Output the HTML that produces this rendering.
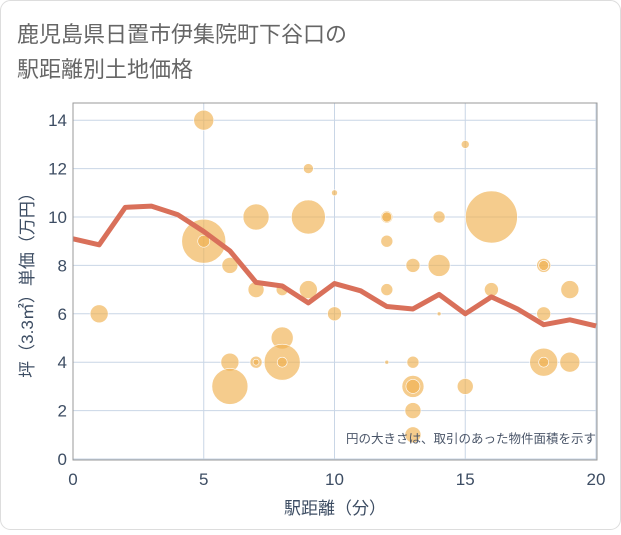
<!DOCTYPE html>
<html><head><meta charset="utf-8"><style>
body{margin:0;background:#fff;}
svg{font-family:"Liberation Sans","Noto Sans CJK JP",sans-serif;}
</style></head><body>
<svg width="621" height="530">
<rect x="0.5" y="0.5" width="620" height="529" rx="10" fill="#fff" stroke="#ddd"/>
<text x="17" y="42" font-size="22" fill="#666">鹿児島県日置市伊集院町下谷口の</text>
<text x="17" y="77" font-size="22" fill="#666">駅距離別土地価格</text>
<g id="grid"></g>
<g id="bubbles"></g>
<path id="line" fill="none" stroke="#d9705a" stroke-width="5" stroke-linejoin="round"/>
<rect x="73" y="103" width="524" height="357" fill="none" stroke="#999" stroke-width="1"/>
<g id="axes"></g>
<text x="596" y="443" font-size="12.5" fill="#4a5568" text-anchor="end">円の大きさは、取引のあった物件面積を示す</text>
<text x="335" y="514" font-size="17" fill="#3d4d63" text-anchor="middle">駅距離（分）</text>
<text transform="translate(33,281) rotate(-90)" font-size="17" fill="#3d4d63" text-anchor="middle">坪（3.3㎡）単価（万円）</text>
</svg>
<script>
const xTicks=[0,5,10,15,20];
const yTicks=[0,2,4,6,8,10,12,14];
const lineX=[0,1,2,3,4,5,6,7,8,9,10,11,12,13,14,15,16,17,18,19,20];
const lineY=[9.1,8.85,10.4,10.45,10.1,9.4,8.6,7.3,7.15,6.45,7.25,6.95,6.3,6.2,6.8,6.0,6.7,6.2,5.55,5.75,5.5];
const bubX=[5,1,5,5,6,6,6,7,7,7,7,8,8,8,8,9,9,9,10,10,12,12,12,12,12,13,13,13,13,13,13,14,14,14,15,15,16,16,18,18,18,18,18,19,19];
const bubY=[14,6,9,9,8,4,3,10,7,4,4,7,5,4,4,12,10,7,11,6,10,10,9,7,4,8,4,3,3,2,1,10,8,6,13,3,10,7,8,8,6,4,4,7,4];
const bubSize=[100,81,484,36,64,81,324,169,64,36,9,36,121,324,25,25,289,81,9,49,36,25,36,36,4,49,36,121,49,64,64,36,121,4,16,64,676,49,49,25,49,196,25,81,100];
const X=v=>73+v*26.15, Y=v=>459-v*24.2;
const ns="http://www.w3.org/2000/svg";
const grid=document.getElementById('grid'),axes=document.getElementById('axes');
yTicks.forEach(t=>{
 const l=document.createElementNS(ns,'line');
 
 
 l.setAttribute('x1',73);l.setAttribute('x2',597);l.setAttribute('y1',Y(t));l.setAttribute('y2',Y(t));
 l.setAttribute('stroke','#c9d6e6');grid.appendChild(l);
 const tx=document.createElementNS(ns,'text');
 
 
 tx.setAttribute('x',67);tx.setAttribute('y',Y(t)+6);tx.setAttribute('text-anchor','end');
 tx.setAttribute('font-size','17');tx.setAttribute('fill','#3d4d63');tx.textContent=t;axes.appendChild(tx);
});
xTicks.forEach(t=>{
 const l=document.createElementNS(ns,'line');
 
 
 l.setAttribute('x1',X(t));l.setAttribute('x2',X(t));l.setAttribute('y1',103);l.setAttribute('y2',460);
 l.setAttribute('stroke','#c9d6e6');grid.appendChild(l);
 const tx=document.createElementNS(ns,'text');
 
 
 tx.setAttribute('x',X(t));tx.setAttribute('y',485);tx.setAttribute('text-anchor','middle');
 tx.setAttribute('font-size','17');tx.setAttribute('fill','#3d4d63');tx.textContent=t;axes.appendChild(tx);
});
const bg=document.getElementById('bubbles');
bubX.forEach((x,i)=>{
 const c=document.createElementNS(ns,'circle');
 
 
 c.setAttribute('cx',X(x));c.setAttribute('cy',Y(bubY[i]));c.setAttribute('r',Math.sqrt(bubSize[i]));
 c.setAttribute('fill','#f0b050');c.setAttribute('fill-opacity','0.65');c.setAttribute('stroke','#fff');c.setAttribute('stroke-width','0.6');
 bg.appendChild(c);
});
document.getElementById('line').setAttribute('d',lineX.map((x,i)=>(i?'L':'M')+X(x)+','+Y(lineY[i])).join(''));
</script>
</body></html>
